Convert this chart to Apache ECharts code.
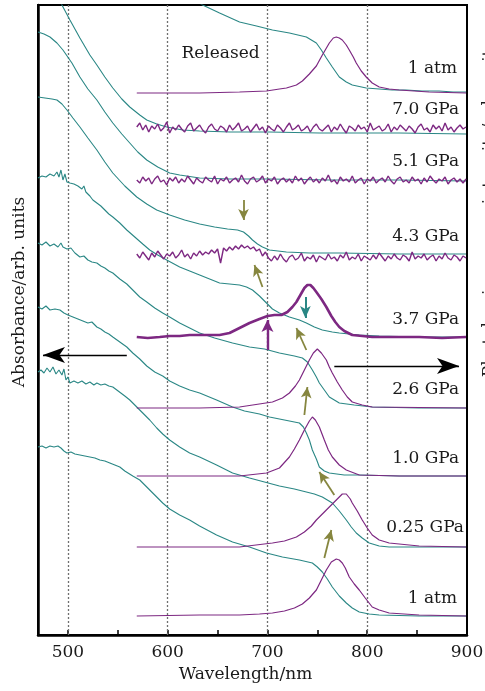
<!DOCTYPE html>
<html><head><meta charset="utf-8">
<script src="https://cdn.jsdelivr.net/npm/echarts@6/dist/echarts.min.js"></script>
<style>html,body{margin:0;padding:0;background:#fff}#c{width:485px;height:691px}</style>
</head><body><div id="c"></div>
<script>
// ---- x ticks / labels ----
const tickValues = [500,550,600,650,700,750,800,850];
const labelValues = [500,600,700,800,900];
const gridLines = [500,600,700,800];

// ---- absorbance (teal), [wavelength nm, offset value] ----
const absReleased = [[622,638],[635,630],[652,622],[672,613],[689,609],[705,605],[722,602],[739,598],[749,592],[754,585],[759,577],[765,568],[772,558],[779,553],[785,550],[799,547],[812,546],[825,545],[839,545],[855,544],[872,544],[886,543],[899,543]];
const abs70 = [[490,640],[494,630],[502,615],[512,597],[522,580],[529,570],[537,558],[545,547],[554,536],[562,528],[572,520],[579,515],[589,511],[599,508],[615,505],[632,504],[662,503],[702,503],[752,502],[832,502],[899,501]];
const abs51 = [[470,603],[476,601],[482,598],[489,592],[495,585],[504,572],[512,558],[520,546],[529,535],[537,523],[545,512],[554,501],[562,492],[570,483],[579,475],[590,468],[602,462],[612,460],[632,457],[662,456],[702,456],[762,455],[832,455],[899,454]];
const abs43 = [[470,538],[477,537],[484,536],[489,535],[494,531],[499,525],[505,517],[512,508],[520,497],[529,485],[537,473],[545,462],[557,449],[569,438],[579,431],[589,425],[602,420],[617,415],[632,411],[647,408],[660,406],[670,405],[676,403],[681,399],[685,395],[690,391],[695,388],[702,385],[719,383],[742,382],[772,382],[832,381],[899,381]];
const abs37 = [[470,457],[474,459],[478,458],[482,461],[486,459],[489,463],[491,458],[493,465],[495,455],[497,461],[499,453],[502,452],[506,451],[510,449],[514,446],[516,449],[518,443],[520,445],[522,439],[525,435],[529,432],[533,429],[537,425],[541,421],[545,418],[552,412],[559,405],[567,398],[575,391],[582,385],[590,380],[599,375],[612,368],[622,364],[632,360],[642,356],[652,352],[662,351],[672,350],[679,348],[685,345],[692,339],[699,332],[705,326],[712,322],[722,318],[732,315],[739,312],[747,308],[755,305],[765,303],[772,302],[792,300],[812,299],[852,298],[899,298]];
const abs26 = [[470,392],[474,390],[478,393],[482,389],[486,391],[490,388],[493,392],[495,388],[499,386],[503,387],[507,382],[512,378],[516,379],[520,375],[524,373],[529,372],[533,369],[537,367],[541,364],[545,362],[552,356],[559,351],[565,345],[572,338],[579,333],[587,327],[595,322],[602,318],[612,312],[622,307],[632,302],[647,297],[665,292],[682,288],[697,286],[712,282],[727,279],[735,277],[740,273],[745,265],[749,258],[752,252],[757,245],[762,238],[767,235],[772,232],[787,230],[805,228],[852,227],[899,227]];
const abs10 = [[470,328],[474,326],[478,329],[482,325],[487,326],[492,325],[496,322],[500,320],[505,318],[510,316],[515,314],[520,312],[524,313],[529,308],[533,306],[537,303],[541,301],[545,298],[552,293],[559,288],[565,282],[572,276],[579,269],[587,263],[595,259],[602,254],[612,249],[622,245],[632,242],[649,235],[665,228],[677,224],[692,221],[702,218],[717,215],[732,212],[736,208],[739,202],[742,195],[745,185],[749,176],[752,168],[757,164],[762,162],[777,160],[792,160],[832,159],[899,159]];
const abs025 = [[470,263],[473,265],[476,262],[479,267],[482,263],[485,268],[488,261],[491,265],[494,260],[496,266],[498,255],[500,258],[502,252],[506,254],[510,252],[514,254],[518,251],[522,253],[526,250],[529,252],[533,250],[537,251],[541,249],[545,248],[549,245],[553,242],[557,239],[562,235],[569,228],[575,222],[582,215],[589,207],[595,201],[602,195],[612,188],[622,182],[632,178],[649,170],[665,162],[682,157],[697,153],[712,149],[727,146],[739,143],[747,141],[755,138],[760,135],[765,132],[772,124],[779,115],[784,108],[789,102],[795,97],[802,92],[812,89],[822,88],[862,88],[899,88]];
const abs1atm = [[470,188],[474,189],[478,187],[482,189],[486,188],[490,189],[493,187],[496,184],[499,182],[503,183],[507,181],[512,180],[517,179],[522,178],[527,177],[532,175],[537,174],[542,172],[547,170],[552,168],[557,164],[559,162],[565,159],[572,155],[579,148],[587,140],[595,132],[602,126],[612,120],[622,115],[632,109],[649,100],[665,93],[682,88],[699,82],[715,78],[732,75],[745,72],[750,68],[755,63],[760,56],[765,48],[772,39],[779,32],[785,27],[792,23],[802,21],[812,20],[852,19],[899,19]];

// ---- photoluminescence (purple) ----
const plReleased = [[569,542],[632,542],[672,543],[699,544],[712,546],[719,547],[729,550],[735,554],[742,561],[749,569],[755,580],[762,592],[766,597],[769,598],[772,597],[775,595],[779,590],[782,585],[786,578],[789,572],[794,564],[799,558],[805,552],[812,548],[822,546],[832,545],[862,543],[899,542]];
const noiseStart = 569, noiseStep = 3;
const pl70Values = [508,512,505,510,503,509,506,511,504,507, 513,502,508,505,510,506,503,509,512,504, 507,510,505,502,508,511,506,504,509,507, 503,510,505,508,512,504,506,509,503,507, 511,505,508,502,509,506,504,510,507,503, 508,512,505,507,510,504,506,509,503,508, 511,506,504,507,510,503,508,505,511,506, 502,509,507,504,510,506,508,503,512,505, 507,509,504,506,511,503,508,505,510,507, 504,509,506,502,508,511,505,507,503,510, 506,509,504,512,505,508,503,507,510,506, 508];
const pl51Values = [455,452,458,454,457,451,456,459,453,455, 450,457,454,458,452,456,453,459,455,451, 457,454,452,458,455,453,459,451,456,454, 458,452,455,457,453,460,454,451,456,458, 453,455,459,452,456,454,458,451,455,457, 453,456,452,459,454,457,451,455,458,453, 456,452,457,454,460,453,455,451,458,454, 456,453,459,452,455,457,451,456,454,458, 452,455,457,453,459,454,451,456,458,453, 455,452,458,454,456,451,457,453,459,455, 452,456,454,458,451,455,457,453,456,452, 456];
const pl43Values = [381,377,383,379,375,382,378,384,380,376, 381,379,383,377,380,385,378,381,376,382, 379,384,380,383,381,385,382,386,372,387, 384,388,385,389,386,390,387,389,386,388, 384,386,379,383,377,374,379,375,381,376, 373,378,380,375,377,382,374,378,376,380, 373,379,377,375,381,376,378,374,380,377, 383,375,378,376,381,374,379,377,375,380, 376,382,378,374,379,376,381,377,375,380, 378,374,383,376,379,377,381,375,378,380, 374,379,376,382,377,375,380,378,374,379, 377];
const pl37 = [[569,298],[580,297],[592,298],[602,299],[612,299],[622,300],[632,300],[642,300],[652,300],[662,302],[672,307],[682,312],[692,316],[700,319],[707,320],[714,320],[720,323],[725,328],[729,333],[733,340],[737,347],[740,350],[743,350],[746,347],[749,343],[754,336],[759,328],[764,319],[768,313],[772,308],[777,304],[785,300],[795,299],[805,298],[830,298],[852,298],[875,297],[899,298]];
const pl26 = [[569,227],[632,227],[672,228],[705,233],[715,237],[722,242],[728,249],[732,255],[737,265],[742,275],[746,282],[750,286],[754,282],[759,275],[762,268],[765,262],[770,253],[775,245],[780,238],[785,233],[795,230],[805,228],[899,227]];
const pl10 = [[569,159],[632,159],[672,159],[699,162],[712,167],[722,178],[727,186],[732,195],[737,205],[742,214],[745,218],[748,215],[752,208],[757,195],[761,185],[765,178],[772,170],[779,165],[792,160],[832,159],[899,159]];
const pl025 = [[569,88],[632,88],[672,88],[705,92],[717,94],[729,98],[737,103],[744,109],[749,115],[755,121],[762,128],[767,133],[772,138],[775,141],[777,142],[779,141],[781,139],[783,136],[785,132],[790,124],[795,115],[800,107],[805,100],[812,95],[822,92],[852,89],[899,88]];
const pl1atm = [[569,19],[632,20],[672,20],[692,21],[705,22],[717,24],[727,27],[735,31],[742,37],[749,45],[754,55],[759,65],[764,73],[769,76],[772,75],[775,72],[778,67],[782,58],[787,51],[792,45],[798,37],[805,28],[812,25],[822,22],[852,20],[899,19]];

// ---- text labels ----
const traceLabels = ['1 atm','7.0 GPa','5.1 GPa','4.3 GPa','3.7 GPa','2.6 GPa','1.0 GPa','0.25 GPa','1 atm'];

const toPairs = vals => vals.map((v, i) => [noiseStart + i * noiseStep, v]);
const pl70 = toPairs(pl70Values), pl51 = toPairs(pl51Values), pl43 = toPairs(pl43Values);

const FONT = 'DejaVu Serif';
const TXT = '#1a1a1a';
const TEAL = '#2a8785';
const PURPLE = '#7d2882';
const OLIVE = '#86863f';

const absSeries = [absReleased, abs70, abs51, abs43, abs37, abs26, abs10, abs025, abs1atm];
const plSeries = [plReleased, pl70, pl51, pl43, pl37, pl26, pl10, pl025, pl1atm];
const plWidths = [1.2, 1.4, 1.4, 1.4, 2.6, 1.2, 1.2, 1.2, 1.2];

// label anchors (right edge, data coords)
const labelAnchors = [[890,566],[892,525],[892,473],[892,398],[892,315],[892,245],[892,176],[897,107],[890,36]];

function arrow(from, to, color, width, head) {
  return [
    {coord: from, symbol: 'none', lineStyle: {color: color, width: width, type: 'solid'}},
    {coord: to, symbol: 'arrow', symbolSize: head}
  ];
}

const series = [];
absSeries.forEach((d, i) => {
  series.push({type: 'line', data: d, symbol: 'none', silent: true, z: 2,
    lineStyle: {color: TEAL, width: 1.1}, yAxisIndex: 0});
});
plSeries.forEach((d, i) => {
  series.push({type: 'line', data: d, symbol: 'none', silent: true, z: 3,
    lineStyle: {color: PURPLE, width: plWidths[i]}, yAxisIndex: 1});
});

// dotted reference lines
series[0].markLine = {
  silent: true, symbol: ['none', 'none'], label: {show: false}, z: 1,
  lineStyle: {type: [2, 2], color: '#6f6f6f', width: 1.3},
  data: gridLines.map(v => ({xAxis: v}))
};
// arrows
series[1].markLine = {
  silent: true, symbol: ['none', 'arrow'], label: {show: false}, z: 5,
  data: [
    arrow([559,280],[475,280], '#000', 1.4, [12, 22]),
    arrow([767,269],[892,269], '#000', 1.4, [12, 22]),
    arrow([676,435],[676,415], OLIVE, 1.8, [8, 11]),
    arrow([695,348],[687,370], OLIVE, 1.8, [8, 11]),
    arrow([739,285],[729,307], OLIVE, 1.8, [8, 11]),
    arrow([737,220],[740,248], OLIVE, 1.8, [8, 11]),
    arrow([767,140],[752,163], OLIVE, 1.8, [8, 11]),
    arrow([757,77],[764,105], OLIVE, 1.8, [8, 11]),
    arrow([700,285],[700,315], PURPLE, 2.4, [9, 12]),
    arrow([738,338],[738,317], TEAL, 2, [8, 12])
  ]
};
// text labels
const mpData = traceLabels.map((t, i) => ({name: t, coord: labelAnchors[i]}));
mpData.push({name: 'Released', coord: [653, 581], label: {position: 'inside'}});
series[2].markPoint = {
  silent: true, symbol: 'circle', symbolSize: 0, z: 6,
  label: {show: true, position: 'left', distance: 0, formatter: '{b}', fontFamily: FONT, fontSize: 17, color: TXT},
  data: mpData
};

const nameStyle = {fontFamily: FONT, fontSize: 17, color: TXT};
const option = {
  animation: false,
  backgroundColor: '#fff',
  grid: {left: 38, right: 18, top: 5, bottom: 56, outerBoundsMode: 'none', containLabel: false,
    show: true, borderColor: '#000', borderWidth: 2, backgroundColor: 'transparent'},
  xAxis: {
    type: 'value', min: 470, max: 900,
    axisLine: {show: true, lineStyle: {color: '#000', width: 2.5}},
    axisTick: {show: true, inside: true, length: 5, customValues: tickValues, lineStyle: {color: '#000', width: 1.5}},
    axisLabel: {customValues: labelValues, margin: 9, fontFamily: FONT, fontSize: 17, color: TXT},
    splitLine: {show: false},
    name: 'Wavelength/nm', nameLocation: 'middle', nameGap: 31,
    nameTextStyle: Object.assign({padding: [0, 14, 0, 0]}, nameStyle)
  },
  yAxis: [{
    type: 'value', min: 0, max: 630, position: 'left',
    axisLine: {show: true, lineStyle: {color: '#000', width: 2.5}},
    axisTick: {show: false}, axisLabel: {show: false}, splitLine: {show: false},
    name: 'Absorbance/arb. units', nameLocation: 'middle', nameGap: 10,
    nameTextStyle: Object.assign({padding: [0, 0, 0, 56]}, nameStyle)
  }, {
    type: 'value', min: 0, max: 630, position: 'right',
    axisLine: {show: true, lineStyle: {color: '#000', width: 2}},
    axisTick: {show: false}, axisLabel: {show: false}, splitLine: {show: false},
    name: 'Photoluminescence intensity/arb. units', nameLocation: 'middle', nameGap: 14,
    nameTextStyle: Object.assign({padding: [0, 0, 0, 222]}, nameStyle)
  }],
  series: series
};
const chart = echarts.init(document.getElementById('c'), null, {renderer: 'canvas'});
chart.setOption(option);
</script></body></html>
